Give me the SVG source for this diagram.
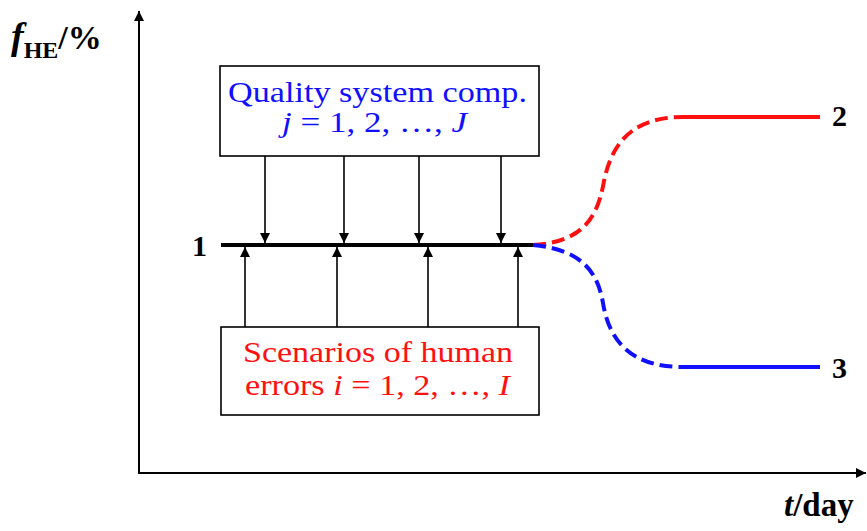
<svg xmlns="http://www.w3.org/2000/svg" width="867" height="531" viewBox="0 0 867 531">
<style>
text{font-family:"Liberation Serif","Times New Roman",serif}
.b{font-weight:bold}
.blue{fill:#1010ff}
.red{fill:#ff1010}
.conn line{stroke:#000;stroke-width:1.6}
.box{fill:#fff;stroke:#000;stroke-width:1.6}
</style>
<defs>
<marker id="ah" viewBox="0 0 10 10" refX="10" refY="5" markerWidth="10" markerHeight="12" markerUnits="userSpaceOnUse" orient="auto">
<path d="M0,0 L10,5 L0,10 z" fill="#000"/>
</marker>
<marker id="axh" viewBox="0 0 10 10" refX="10" refY="5" markerWidth="12" markerHeight="10" markerUnits="userSpaceOnUse" orient="auto">
<path d="M0,0 L10,5 L0,10 z" fill="#000"/>
</marker>
</defs>
<g id="axes">
<line x1="139" y1="473" x2="139" y2="11" stroke="#000" stroke-width="2" marker-end="url(#axh)"/>
<line x1="138" y1="473" x2="866" y2="473" stroke="#000" stroke-width="2" marker-end="url(#axh)"/>
<text x="11" y="49" class="b"><tspan font-style="italic" font-size="38">f</tspan><tspan font-size="24" dy="9">HE</tspan><tspan font-size="34" dy="-9">/%</tspan></text>
<text x="784" y="516" class="b" font-size="33"><tspan font-style="italic">t</tspan>/day</text>
</g>
<g id="baseline">
<line x1="221" y1="245" x2="536" y2="245" stroke="#000" stroke-width="4"/>
<text x="192" y="256" class="b" font-size="30">1</text>
</g>
<g id="quality-box">
<rect class="box" x="220" y="66" width="319" height="90"/>
<text x="228" y="102" font-size="30" class="blue" textLength="299" lengthAdjust="spacingAndGlyphs">Quality system comp.</text>
<text x="282" y="132" font-size="30" class="blue" textLength="185" lengthAdjust="spacingAndGlyphs"><tspan font-style="italic">j</tspan> = 1, 2, …, <tspan font-style="italic">J</tspan></text>
</g>
<g id="scenario-box">
<rect class="box" x="221" y="327" width="318" height="88"/>
<text x="243" y="362" font-size="30" class="red" textLength="270" lengthAdjust="spacingAndGlyphs">Scenarios of human</text>
<text x="245" y="395" font-size="30" class="red" textLength="265" lengthAdjust="spacingAndGlyphs">errors <tspan font-style="italic">i</tspan> = 1, 2, …, <tspan font-style="italic">I</tspan></text>
</g>
<g id="curve-2">
<path d="M533,245 C585,242 598,215 604,181 C611,148 628,117 683,117" fill="none" stroke="#ff1010" stroke-width="4" stroke-dasharray="13,6"/>
<line x1="683" y1="117" x2="820" y2="117" stroke="#ff1010" stroke-width="4"/>
<text x="832" y="126" class="b" font-size="30">2</text>
</g>
<g id="curve-3">
<path d="M533,245 C585,250 598,275 603,303 C609,340 630,367 683,367" fill="none" stroke="#1010ff" stroke-width="4" stroke-dasharray="13,6"/>
<line x1="683" y1="367" x2="820" y2="367" stroke="#1010ff" stroke-width="4"/>
<text x="832" y="378" class="b" font-size="30">3</text>
</g>
<g id="connectors" class="conn">
<line x1="265" y1="156" x2="265" y2="243" marker-end="url(#ah)"/>
<line x1="344" y1="156" x2="344" y2="243" marker-end="url(#ah)"/>
<line x1="419" y1="156" x2="419" y2="243" marker-end="url(#ah)"/>
<line x1="501" y1="156" x2="501" y2="243" marker-end="url(#ah)"/>
<line x1="245" y1="327" x2="245" y2="247" marker-end="url(#ah)"/>
<line x1="337" y1="327" x2="337" y2="247" marker-end="url(#ah)"/>
<line x1="428" y1="327" x2="428" y2="247" marker-end="url(#ah)"/>
<line x1="518" y1="327" x2="518" y2="247" marker-end="url(#ah)"/>
</g>
</svg>
